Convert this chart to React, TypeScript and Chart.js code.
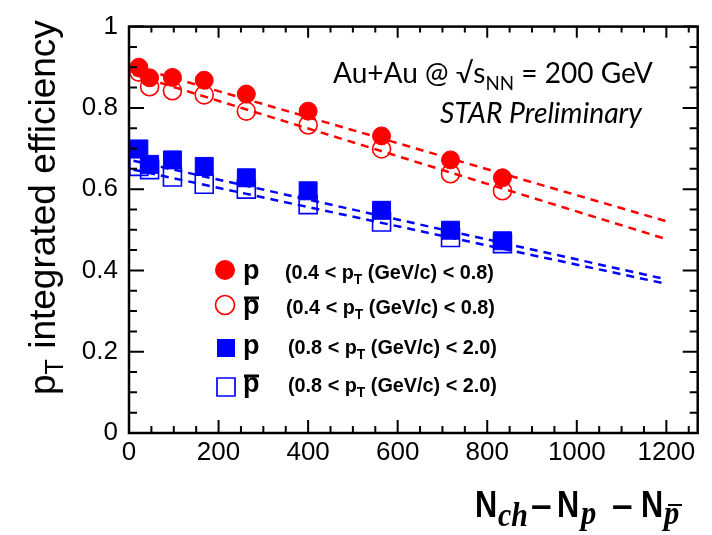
import React, { useEffect, useRef } from 'react';
import { Chart, registerables } from 'chart.js';

Chart.register(...registerables);

// ---------- data ----------
const multiplicity = [22, 46, 97, 168, 262, 400, 564, 718, 834];
const protonLowPt = [0.9, 0.874, 0.875, 0.868, 0.834, 0.792, 0.731, 0.672, 0.628];
const antiprotonLowPt = [0.888, 0.852, 0.842, 0.832, 0.792, 0.758, 0.699, 0.638, 0.596];
const protonHighPt = [0.699, 0.661, 0.672, 0.656, 0.628, 0.596, 0.548, 0.499, 0.473];
const antiprotonHighPt = [0.656, 0.648, 0.63, 0.612, 0.6, 0.562, 0.519, 0.481, 0.466];

const fitX = [10, 1200];
const protonLowFit = [0.902, 0.521];
const antiprotonLowFit = [0.882, 0.477];
const protonHighFit = [0.67, 0.378];
const antiprotonHighFit = [0.648, 0.367];

const xTickValues = [0, 200, 400, 600, 800, 1000, 1200];
const xTickLabels = ['0', '200', '400', '600', '800', '1000', '1200'];
const yTickValues = [0, 0.2, 0.4, 0.6, 0.8, 1.0];
const yTickLabels = ['0', '0.2', '0.4', '0.6', '0.8', '1'];

const legendAnti = [false, true, false, true];
const legendLow = ['0.4', '0.4', '0.8', '0.8'];
const legendHigh = ['0.8', '0.8', '2.0', '2.0'];

const RED = '#ff0000';
const BLUE = '#0000ff';
const SANS = '"Liberation Sans", Arial, sans-serif';
const SERIF = '"Liberation Serif", "Times New Roman", serif';
const HUMAN = 'Lato, "Open Sans", sans-serif';

type Run = { t: string; size: number; family: string; weight?: string; style?: string; dy?: number };

function fontOf(r: Run, k: number) {
  return `${r.style || 'normal'} ${r.weight || 'normal'} ${r.size * k}px ${r.family}`;
}
function runsWidth(ctx: CanvasRenderingContext2D, runs: Run[], k = 1) {
  let w = 0;
  for (const r of runs) {
    ctx.font = fontOf(r, k);
    w += ctx.measureText(r.t).width;
  }
  return w;
}
function drawRuns(ctx: CanvasRenderingContext2D, runs: Run[], x: number, y: number, k = 1) {
  let cx = x;
  for (const r of runs) {
    ctx.font = fontOf(r, k);
    ctx.fillText(r.t, cx, y + (r.dy || 0) * k);
    cx += ctx.measureText(r.t).width;
  }
}
function drawFitted(ctx: CanvasRenderingContext2D, runs: Run[], x: number, y: number, target: number) {
  const k = target / runsWidth(ctx, runs, 1);
  drawRuns(ctx, runs, x, y, k);
}

const framePlugin = {
  id: 'rootFrame',
  afterDraw(chart: any) {
    const ctx: CanvasRenderingContext2D = chart.ctx;
    const { left, right, top, bottom } = chart.chartArea;
    const xs = chart.scales.x;
    const ys = chart.scales.y;
    ctx.save();
    ctx.strokeStyle = '#000';
    ctx.fillStyle = '#000';
    // frame
    ctx.lineWidth = 2.5;
    ctx.strokeRect(left, top, right - left, bottom - top);
    // ticks
    ctx.lineWidth = 2;
    ctx.beginPath();
    for (let v = 0; v <= xs.max + 1e-6; v += 50) {
      const px = xs.getPixelForValue(v);
      const len = v % 200 === 0 ? 13 : 7;
      ctx.moveTo(px, bottom);
      ctx.lineTo(px, bottom - len);
      ctx.moveTo(px, top);
      ctx.lineTo(px, top + len * 0.85);
    }
    for (let i = 0; i <= 20; i++) {
      const v = i * 0.05;
      const py = ys.getPixelForValue(v);
      const len = i % 4 === 0 ? 15 : 8;
      ctx.moveTo(left, py);
      ctx.lineTo(left + len, py);
      ctx.moveTo(right, py);
      ctx.lineTo(right - len, py);
    }
    ctx.stroke();

    // y axis title (rotated)
    ctx.save();
    ctx.translate(55, 395);
    ctx.rotate(-Math.PI / 2);
    ctx.textBaseline = 'alphabetic';
    drawFitted(
      ctx,
      [
        { t: 'p', size: 37, family: SANS },
        { t: 'T', size: 25, family: SANS, dy: 8 },
        { t: ' integrated efficiency', size: 37, family: SANS },
      ],
      0,
      0,
      375
    );
    ctx.restore();

    // x axis title
    const piece = (t: string, x: number, y: number, font: string, sx: number) => {
      ctx.save();
      ctx.translate(x, y);
      ctx.scale(sx, 1);
      ctx.font = font;
      ctx.fillText(t, 0, 0);
      ctx.restore();
    };
    const NF = `bold 37px ${SANS}`;
    const SF = `italic bold 34px ${SERIF}`;
    piece('N', 475, 517, NF, 0.83);
    piece('ch', 498, 526, SF, 0.88);
    piece('\u2013', 531, 517, NF, 1);
    piece('N', 557, 517, NF, 0.83);
    piece('p', 581, 524, SF, 0.9);
    piece('\u2013', 612, 517, NF, 1);
    piece('N', 641, 517, NF, 0.83);
    piece('p', 664, 524, SF, 0.9);
    ctx.lineWidth = 2;
    ctx.beginPath();
    ctx.moveTo(668, 505);
    ctx.lineTo(682, 505);
    ctx.stroke();

    // annotations
    drawFitted(
      ctx,
      [
        { t: 'Au+Au @ \u221As', size: 30, family: HUMAN },
        { t: 'NN', size: 20, family: HUMAN, dy: 7 },
        { t: ' = 200 GeV', size: 30, family: HUMAN },
      ],
      333,
      83,
      320
    );
    drawFitted(ctx, [{ t: 'STAR Preliminary', size: 22, family: HUMAN, style: 'italic' }], 440, 123, 202);

    // legend
    const rowsMarkerY = [270, 305, 348, 387];
    const rowsBase = [279, 314, 354, 392];
    const rowsTextX = [285, 286, 288, 288];
    for (let i = 0; i < 4; i++) {
      const color = i < 2 ? RED : BLUE;
      const filled = !legendAnti[i];
      const my = rowsMarkerY[i];
      ctx.save();
      ctx.fillStyle = color;
      ctx.strokeStyle = color;
      ctx.lineWidth = 1.7;
      ctx.beginPath();
      if (i < 2) {
        ctx.arc(225, my, filled ? 10 : 9.5, 0, Math.PI * 2);
      } else {
        ctx.rect(217, my - 9, 18, 18);
      }
      if (filled) ctx.fill();
      else ctx.stroke();
      ctx.restore();

      ctx.font = `bold 27px ${SANS}`;
      ctx.fillText('p', 243, rowsBase[i]);
      if (legendAnti[i]) {
        ctx.lineWidth = 3;
        ctx.beginPath();
        ctx.moveTo(244, rowsBase[i] - 16);
        ctx.lineTo(259, rowsBase[i] - 16);
        ctx.stroke();
      }
      drawFitted(
        ctx,
        [
          { t: `(${legendLow[i]} < p`, size: 20, family: SANS, weight: 'bold' },
          { t: 'T', size: 14, family: SANS, weight: 'bold', dy: 5 },
          { t: ` (GeV/c) < ${legendHigh[i]})`, size: 20, family: SANS, weight: 'bold' },
        ],
        rowsTextX[i],
        rowsBase[i],
        209
      );
    }
    ctx.restore();
  },
};

function pts(xs: number[], ys: number[]) {
  return xs.map((x, i) => ({ x, y: ys[i] }));
}

export default function App() {
  const ref = useRef<HTMLCanvasElement | null>(null);
  useEffect(() => {
    if (!ref.current) return;
    const marker = (data: any, color: string, style: string, r: number, filled: boolean) => ({
      type: 'scatter' as const,
      data,
      pointStyle: style,
      pointRadius: r,
      pointHoverRadius: r,
      backgroundColor: filled ? color : 'rgba(0,0,0,0)',
      borderColor: color,
      pointBorderWidth: filled ? 1 : 1.6,
      borderWidth: filled ? 1 : 1.6,
      showLine: false,
    });
    const fit = (ys: number[], color: string) => ({
      type: 'scatter' as const,
      data: pts(fitX, ys),
      showLine: true,
      borderColor: color,
      borderWidth: 2.5,
      borderDash: [8, 6],
      pointRadius: 0,
      fill: false,
    });
    const chart = new Chart(ref.current, {
      type: 'scatter',
      data: {
        datasets: [
          marker(pts(multiplicity, protonLowPt), RED, 'circle', 9, true),
          marker(pts(multiplicity, antiprotonLowPt), RED, 'circle', 9, false),
          marker(pts(multiplicity, protonHighPt), BLUE, 'rect', 12.7, true),
          marker(pts(multiplicity, antiprotonHighPt), BLUE, 'rect', 12.7, false),
          fit(protonLowFit, RED),
          fit(antiprotonLowFit, RED),
          fit(protonHighFit, BLUE),
          fit(antiprotonHighFit, BLUE),
        ] as any,
      },
      options: {
        responsive: false,
        animation: false,
        devicePixelRatio: 1,
        layout: { padding: { left: 0, top: 21, right: 14, bottom: 0 } },
        plugins: { legend: { display: false }, tooltip: { enabled: false } },
        scales: {
          x: {
            type: 'linear',
            min: 0,
            max: 1270,
            grid: { display: false, drawTicks: false },
            border: { display: false },
            afterFit: (s: any) => {
              s.height = 102;
            },
            afterBuildTicks: (s: any) => {
              s.ticks = xTickValues.map((v) => ({ value: v }));
            },
            ticks: {
              padding: 4,
              maxRotation: 0,
              autoSkip: false,
              color: '#000',
              font: { family: SANS, size: 26 },
              callback: (v: any) => {
                const i = xTickValues.indexOf(Number(v));
                return i >= 0 ? xTickLabels[i] : '';
              },
            },
          },
          y: {
            type: 'linear',
            min: 0,
            max: 1,
            grid: { display: false, drawTicks: false },
            border: { display: false },
            afterFit: (s: any) => {
              s.width = 129;
            },
            afterBuildTicks: (s: any) => {
              s.ticks = yTickValues.map((v) => ({ value: v }));
            },
            ticks: {
              padding: 11,
              autoSkip: false,
              color: '#000',
              font: { family: SANS, size: 26 },
              callback: (v: any) => {
                const i = yTickValues.findIndex((t) => Math.abs(t - Number(v)) < 1e-6);
                return i >= 0 ? yTickLabels[i] : '';
              },
            },
          },
        },
      },
      plugins: [framePlugin],
    });
    return () => chart.destroy();
  }, []);
  return (
    <div style={{ position: 'absolute', left: 0, top: 0, width: 712, height: 535, background: '#fff' }}>
      <canvas ref={ref} width={712} height={535} style={{ width: 712, height: 535, display: 'block' }} />
    </div>
  );
}
